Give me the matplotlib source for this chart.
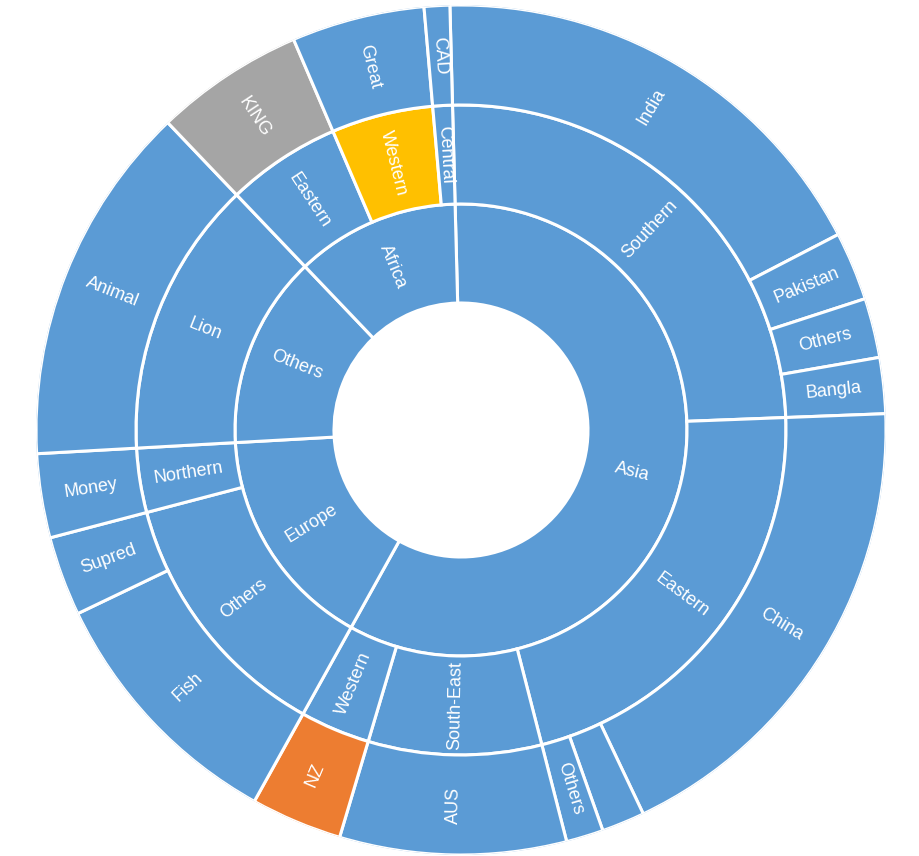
import numpy as np
import matplotlib

matplotlib.use("Agg")
import matplotlib.pyplot as plt

plt.rcParams["font.family"] = ["Liberation Sans", "DejaVu Sans"]

# ---------------------------------------------------------------------------
# Data: three rings, leaves carry the values, parents are sums of children
# ---------------------------------------------------------------------------
REGIONS = ["Asia", "Europe", "Others", "Africa"]
SUBREGIONS = ["Southern", "Eastern", "South-East", "Western", "Others",
              "Northern", "Lion", "Eastern", "Western", "Central"]
SUBREGION_PARENT = [0, 0, 0, 0, 1, 1, 2, 3, 3, 3]
LEAVES = ["India", "Pakistan", "Others", "Bangla", "China", "", "Others",
          "AUS", "NZ", "Fish", "Supred", "Money", "Animal", "KING", "Great",
          "CAD"]
LEAF_PARENT = [0, 0, 0, 0, 1, 1, 1, 2, 3, 4, 4, 5, 6, 7, 8, 9]
LEAF_VALUES = [64.1, 9.4, 8.15, 7.65, 66.8, 5.9, 5.1, 31.0, 12.5, 35.3,
               10.9, 11.5, 49.55, 20.45, 18.2, 3.5]

# highlighted cells (ring, index) -> colour
BLUE = "#5B9BD5"
HIGHLIGHT = {
    ("leaf", 8): "#ED7D31",    # NZ
    ("leaf", 13): "#A5A5A5",   # KING
    ("sub", 8): "#FFC000",     # Western (Africa)
}

START_DEG = -1.5
RADII = [127, 226, 325, 425]

leaf_vals = np.array(LEAF_VALUES)
sub_vals = np.bincount(LEAF_PARENT, weights=leaf_vals)
region_vals = np.bincount(SUBREGION_PARENT, weights=sub_vals)
TOTAL = leaf_vals.sum()

W, H = 920, 856
fig = plt.figure(figsize=(W / 100, H / 100), dpi=100)
cx, cy, R = 461, 430, RADII[-1]
ax = fig.add_axes([(cx - R) / W, (H - cy - R) / H, 2 * R / W, 2 * R / H],
                  projection="polar")
ax.set_theta_zero_location("N")
ax.set_theta_direction(-1)
ax.set_ylim(0, R)
ax.grid(False)
ax.set_xticks([])
ax.set_yticks([])
ax.spines["polar"].set_visible(False)
ax.patch.set_alpha(0)


def ring(values, labels, r_in, r_out, key):
    widths = values / TOTAL * 2 * np.pi
    lefts = np.radians(START_DEG) + np.cumsum(widths) - widths
    colors = [HIGHLIGHT.get((key, i), BLUE) for i in range(len(values))]
    ax.bar(lefts, r_out - r_in, width=widths, bottom=r_in, align="edge",
           color=colors, edgecolor="white", linewidth=2.2)
    for left, w, lab in zip(lefts, widths, labels):
        if not lab:
            continue
        mid = left + w / 2
        deg = np.degrees(mid) % 360
        rot = 90 - deg if deg < 180 else 270 - deg
        ax.text(mid, (r_in + r_out) / 2, lab, rotation=rot,
                rotation_mode="anchor", ha="center", va="center",
                color="white", fontsize=13)


ring(region_vals, REGIONS, RADII[0], RADII[1], "region")
ring(sub_vals, SUBREGIONS, RADII[1], RADII[2], "sub")
ring(leaf_vals, LEAVES, RADII[2], RADII[3], "leaf")

fig.savefig("out.png", dpi=100, facecolor="white")
